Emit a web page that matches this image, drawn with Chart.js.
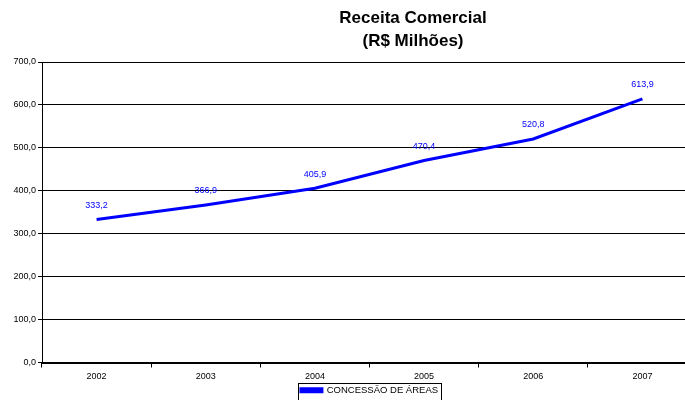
<!DOCTYPE html>
<html>
<head>
<meta charset="utf-8">
<script src="https://cdn.jsdelivr.net/npm/chart.js@4"></script>
<style>
    html, body { margin: 0; padding: 0; background: #fff; overflow: hidden; }
    #wrap { width: 697px; height: 405px; }
</style>
</head>
<body>
<div id="wrap"><canvas id="chart"></canvas></div>
<script>
    var years = ['2002', '2003', '2004', '2005', '2006', '2007'];
    var receita = [333.2, 366.9, 405.9, 470.4, 520.8, 613.9];
    var seriesName = 'CONCESSÃO DE ÁREAS';
    var titleLines = ['Receita Comercial', '(R$ Milhões)'];

    var fmt = function (v) {
        return v.toFixed(1).replace('.', ',');
    };

    // titulo desenhado a mao (fica deslocado a direita no original)
    var titlePlugin = {
        id: 'titlePlugin',
        afterDraw: function (chart) {
            var ctx = chart.ctx;
            ctx.save();
            ctx.font = 'bold 17px "Liberation Sans", Arial, sans-serif';
            ctx.fillStyle = '#000';
            ctx.textAlign = 'center';
            ctx.textBaseline = 'middle';
            ctx.fillText(titleLines[0], 413, 18);
            ctx.fillText(titleLines[1], 413, 41);
            ctx.restore();
        }
    };

    var valueLabels = {
        id: 'valueLabels',
        afterDatasetsDraw: function (chart) {
            var ctx = chart.ctx;
            var meta = chart.getDatasetMeta(0);
            ctx.save();
            ctx.font = '9px "Liberation Sans", Arial, sans-serif';
            ctx.fillStyle = '#0000ff';
            ctx.textAlign = 'center';
            ctx.textBaseline = 'middle';
            meta.data.forEach(function (pt, i) {
                ctx.fillText(fmt(receita[i]), pt.x, pt.y - 14);
            });
            ctx.restore();
        }
    };

    // legenda centrada na area do grafico, com moldura
    var legendBox = {
        id: 'legendBox',
        afterLayout: function (chart) {
            var lg = chart.legend;
            var area = chart.chartArea;
            var dx = (area.left + area.right) / 2 - (lg.left + lg.right) / 2;
            lg.left += dx;
            lg.right += dx;
            lg.legendHitBoxes.forEach(function (hb) {
                hb.left += dx;
            });
        },
        afterDraw: function (chart) {
            var lg = chart.legend;
            if (!lg || !lg.legendHitBoxes.length) {
                return;
            }
            var hb = lg.legendHitBoxes[0];
            var ctx = chart.ctx;
            ctx.save();
            ctx.strokeStyle = '#000';
            ctx.lineWidth = 1;
            ctx.strokeRect(Math.round(hb.left) - 2.5, Math.round(hb.top) - 2.5, Math.round(hb.width) + 6, 20);
            ctx.restore();
        }
    };

    new Chart(document.getElementById('chart'), {
        type: 'line',
        data: {
            labels: years,
            datasets: [{
                label: seriesName,
                data: receita,
                borderColor: '#0000ff',
                backgroundColor: '#0000ff',
                borderWidth: 3,
                pointRadius: 0,
                tension: 0,
                fill: false
            }]
        },
        options: {
            responsive: true,
            maintainAspectRatio: false,
            animation: false,
            layout: { padding: { top: 62, left: 0, right: 0, bottom: 0 } },
            plugins: {
                title: { display: false },
                tooltip: { enabled: false },
                legend: {
                    position: 'bottom',
                    labels: {
                        boxWidth: 21,
                        boxHeight: 3,
                        padding: 3,
                        color: '#000',
                        font: { size: 9.5, family: '"Liberation Sans", Arial, sans-serif' }
                    }
                }
            },
            scales: {
                x: {
                    offset: true,
                    grid: {
                        offset: true,
                        drawOnChartArea: false,
                        color: '#000',
                        tickLength: 5
                    },
                    border: { color: '#000', width: 2 },
                    ticks: {
                        color: '#000',
                        padding: 4,
                        font: { size: 9, family: '"Liberation Sans", Arial, sans-serif' }
                    },
                    afterFit: function (scale) {
                        scale.height = 20;
                    }
                },
                y: {
                    min: 0,
                    max: 700,
                    grid: { color: '#000', tickLength: 4 },
                    border: { color: '#000', width: 1 },
                    ticks: {
                        stepSize: 100,
                        color: '#000',
                        padding: 2,
                        font: { size: 9, family: '"Liberation Sans", Arial, sans-serif' },
                        callback: function (v) {
                            return fmt(v);
                        }
                    },
                    afterFit: function (scale) {
                        scale.width = 42;
                    }
                }
            }
        },
        plugins: [titlePlugin, valueLabels, legendBox]
    });
</script>
</body>
</html>
